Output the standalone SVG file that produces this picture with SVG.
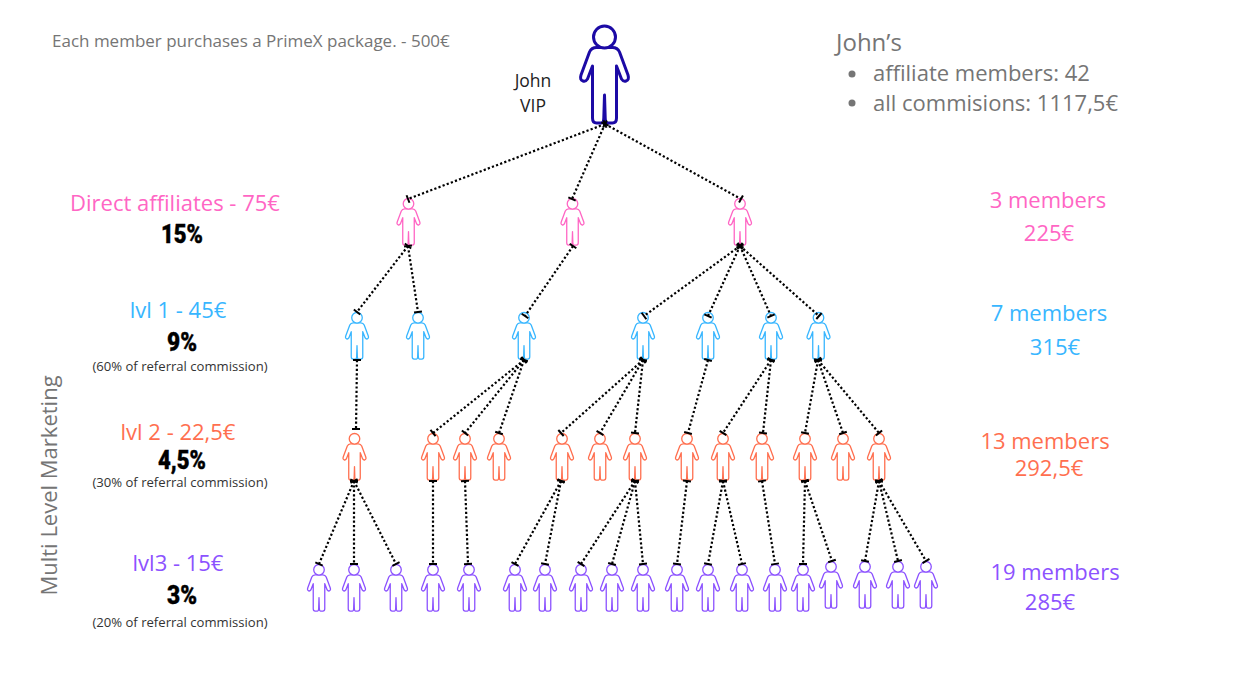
<svg xmlns="http://www.w3.org/2000/svg" width="1250" height="694" viewBox="0 0 1250 694">
<style>
text{font-family:"Open Sans","DejaVu Sans",sans-serif}
.m{text-anchor:middle}
.h{font-size:22px}
.s{font-size:13.1px;fill:#333}
.g{fill:#757575}
.b{font-family:Roboto,"Liberation Sans",sans-serif;font-weight:900;font-size:26px;fill:#000;stroke:#000;stroke-width:.4px;text-anchor:middle}
.pk{fill:#ff66c4;stroke:#ff66c4;stroke-width:2.7}.bl{fill:#38b6ff;stroke:#38b6ff;stroke-width:2.7}.or{fill:#ff6f4f;stroke:#ff6f4f;stroke-width:2.7}.pu{fill:#8c52ff;stroke:#8c52ff;stroke-width:2.7}
text.pk,text.bl,text.or,text.pu{stroke:none}
.vip{stroke:#1c0aa5;stroke-width:3}
#c line{stroke:#000;stroke-width:2.2;stroke-dasharray:2.2 2.2;marker-end:url(#t);marker-start:url(#t)}
</style>
<defs>
<marker id="t" markerUnits="userSpaceOnUse" markerWidth="4" markerHeight="10" refX="2" refY="5" orient="auto"><rect x="1" y="1" width="2" height="8" fill="#000"/></marker>
<g id="p" fill="#fff" stroke-linejoin="round"><path d="M-8 22.5H8Q13 22.5 15 27L23.500 50Q25 55 21.500 56Q19 57 17 54L12 41V93Q12 98 8 98H3Q1 98 .7 93L0 70L-.7 93Q-1 98-3 98H-8Q-12 98-12 93V41L-17 54Q-19 57-21.500 56Q-25 55-23.500 50L-15 27Q-13 22.5-8 22.5Z"/><circle cx="0" cy="12" r="11"/></g>
</defs>
<g id="john" class="vip"><use href="#p" transform="translate(604.5 25)"/></g>
<g id="d1" class="pk"><use href="#p" transform="translate(408.5 198) scale(.48)"/></g>
<g id="d2" class="pk"><use href="#p" transform="translate(572.5 198) scale(.48)"/></g>
<g id="d3" class="pk"><use href="#p" transform="translate(740 198) scale(.48)"/></g>
<g id="l1a" class="bl"><use href="#p" transform="translate(357 312) scale(.48)"/></g>
<g id="l1b" class="bl"><use href="#p" transform="translate(418 312) scale(.48)"/></g>
<g id="l1c" class="bl"><use href="#p" transform="translate(524 312) scale(.48)"/></g>
<g id="l1d" class="bl"><use href="#p" transform="translate(643 312) scale(.48)"/></g>
<g id="l1e" class="bl"><use href="#p" transform="translate(708 312) scale(.48)"/></g>
<g id="l1f" class="bl"><use href="#p" transform="translate(771 312) scale(.48)"/></g>
<g id="l1g" class="bl"><use href="#p" transform="translate(818.5 312) scale(.48)"/></g>
<g id="l2a" class="or"><use href="#p" transform="translate(354.5 433) scale(.48)"/></g>
<g id="l2b" class="or"><use href="#p" transform="translate(433 433) scale(.48)"/></g>
<g id="l2c" class="or"><use href="#p" transform="translate(465 433) scale(.48)"/></g>
<g id="l2d" class="or"><use href="#p" transform="translate(499 433) scale(.48)"/></g>
<g id="l2e" class="or"><use href="#p" transform="translate(562 433) scale(.48)"/></g>
<g id="l2f" class="or"><use href="#p" transform="translate(600 433) scale(.48)"/></g>
<g id="l2g" class="or"><use href="#p" transform="translate(635 433) scale(.48)"/></g>
<g id="l2h" class="or"><use href="#p" transform="translate(687 433) scale(.48)"/></g>
<g id="l2i" class="or"><use href="#p" transform="translate(723 433) scale(.48)"/></g>
<g id="l2j" class="or"><use href="#p" transform="translate(762 433) scale(.48)"/></g>
<g id="l2k" class="or"><use href="#p" transform="translate(805 433) scale(.48)"/></g>
<g id="l2l" class="or"><use href="#p" transform="translate(843 433) scale(.48)"/></g>
<g id="l2m" class="or"><use href="#p" transform="translate(879 433) scale(.48)"/></g>
<g id="l3a" class="pu"><use href="#p" transform="translate(319 564) scale(.48)"/></g>
<g id="l3b" class="pu"><use href="#p" transform="translate(354 564) scale(.48)"/></g>
<g id="l3c" class="pu"><use href="#p" transform="translate(396 564) scale(.48)"/></g>
<g id="l3d" class="pu"><use href="#p" transform="translate(433 564) scale(.48)"/></g>
<g id="l3e" class="pu"><use href="#p" transform="translate(469 564) scale(.48)"/></g>
<g id="l3f" class="pu"><use href="#p" transform="translate(515 564) scale(.48)"/></g>
<g id="l3g" class="pu"><use href="#p" transform="translate(545 564) scale(.48)"/></g>
<g id="l3h" class="pu"><use href="#p" transform="translate(581 564) scale(.48)"/></g>
<g id="l3i" class="pu"><use href="#p" transform="translate(612 564) scale(.48)"/></g>
<g id="l3j" class="pu"><use href="#p" transform="translate(643 564) scale(.48)"/></g>
<g id="l3k" class="pu"><use href="#p" transform="translate(677 564) scale(.48)"/></g>
<g id="l3l" class="pu"><use href="#p" transform="translate(708 564) scale(.48)"/></g>
<g id="l3m" class="pu"><use href="#p" transform="translate(742 564) scale(.48)"/></g>
<g id="l3n" class="pu"><use href="#p" transform="translate(775 564) scale(.48)"/></g>
<g id="l3o" class="pu"><use href="#p" transform="translate(803 564) scale(.48)"/></g>
<g id="l3p" class="pu"><use href="#p" transform="translate(831 561) scale(.48)"/></g>
<g id="l3q" class="pu"><use href="#p" transform="translate(865 561) scale(.48)"/></g>
<g id="l3r" class="pu"><use href="#p" transform="translate(898 561) scale(.48)"/></g>
<g id="l3s" class="pu"><use href="#p" transform="translate(926 561) scale(.48)"/></g>
<g id="c">
<line x1="605" y1="124" x2="408" y2="199"/><line x1="605" y1="124" x2="572" y2="199"/><line x1="605" y1="124" x2="741" y2="199"/>
<line x1="408" y1="246" x2="357" y2="312"/><line x1="408" y1="246" x2="418" y2="312"/><line x1="573" y1="246" x2="525" y2="316"/>
<line x1="740" y1="246" x2="644" y2="316"/><line x1="740" y1="246" x2="708" y2="316"/><line x1="740" y1="246" x2="771" y2="316"/><line x1="740" y1="246" x2="819" y2="316"/>
<line x1="357" y1="360" x2="356" y2="429"/>
<line x1="524" y1="360" x2="433" y2="433"/><line x1="524" y1="360" x2="465" y2="433"/><line x1="524" y1="360" x2="499" y2="433"/>
<line x1="643" y1="360" x2="561" y2="433"/><line x1="643" y1="360" x2="600" y2="433"/><line x1="643" y1="360" x2="635" y2="433"/>
<line x1="708" y1="360" x2="688" y2="433"/>
<line x1="771" y1="360" x2="723" y2="433"/><line x1="771" y1="360" x2="763" y2="433"/>
<line x1="818" y1="360" x2="805" y2="433"/><line x1="818" y1="360" x2="843" y2="433"/><line x1="818" y1="360" x2="879" y2="433"/>
<line x1="354" y1="481" x2="319" y2="564"/><line x1="354" y1="481" x2="354" y2="564"/><line x1="354" y1="481" x2="396" y2="564"/>
<line x1="433" y1="481" x2="433" y2="564"/><line x1="465" y1="481" x2="468" y2="564"/>
<line x1="561" y1="481" x2="515" y2="564"/><line x1="561" y1="481" x2="545" y2="564"/>
<line x1="635" y1="481" x2="581" y2="564"/><line x1="635" y1="481" x2="612" y2="564"/><line x1="635" y1="481" x2="643" y2="564"/>
<line x1="687" y1="481" x2="677" y2="564"/><line x1="723" y1="481" x2="708" y2="564"/><line x1="723" y1="481" x2="742" y2="564"/>
<line x1="762" y1="481" x2="775" y2="564"/><line x1="805" y1="481" x2="803" y2="564"/><line x1="805" y1="481" x2="832" y2="561"/>
<line x1="879" y1="481" x2="865" y2="561"/><line x1="879" y1="481" x2="898" y2="561"/><line x1="879" y1="481" x2="926" y2="561"/>
</g>
<g id="labels">
<text x="52" y="47" font-size="17" class="g">Each member purchases a PrimeX package. - 500€</text>
<text x="533" y="87" font-size="17.5" class="m" fill="#222">John</text>
<text x="533" y="112" font-size="17.5" class="m" fill="#222">VIP</text>
<text x="836" y="51" font-size="24" class="g">John’s</text>
<circle cx="852" cy="74" r="3.5" fill="#757575"/><circle cx="852" cy="103" r="3.5" fill="#757575"/>
<text x="873" y="81" font-size="22" class="g">affiliate members: 42</text>
<text x="873" y="111" font-size="22" class="g">all commisions: 1117,5€</text>
<text x="175" y="211" class="h m pk">Direct affiliates - 75€</text>
<text x="182" y="243" class="b" textLength="42" lengthAdjust="spacingAndGlyphs">15%</text>
<text x="178" y="318" class="h m bl">lvl 1 - 45€</text>
<text x="182" y="351" class="b" textLength="30" lengthAdjust="spacingAndGlyphs">9%</text>
<text x="180" y="371" class="s m">(60% of referral commission)</text>
<text x="178" y="440" class="h m or">lvl 2 - 22,5€</text>
<text x="182" y="469" class="b" textLength="48" lengthAdjust="spacingAndGlyphs">4,5%</text>
<text x="180" y="487" class="s m">(30% of referral commission)</text>
<text x="178" y="571" class="h m pu">lvl3 - 15€</text>
<text x="182" y="604" class="b" textLength="30" lengthAdjust="spacingAndGlyphs">3%</text>
<text x="180" y="627" class="s m">(20% of referral commission)</text>
<text transform="translate(57 485.500) rotate(-90)" font-size="22" class="m g">Multi Level Marketing</text>
<text x="1048" y="208" class="h m pk">3 members</text><text x="1049" y="241" class="h m pk">225€</text>
<text x="1049" y="321" class="h m bl">7 members</text><text x="1055" y="355" class="h m bl">315€</text>
<text x="1045" y="449" class="h m or">13 members</text><text x="1049" y="476" class="h m or">292,5€</text>
<text x="1055" y="580" class="h m pu">19 members</text><text x="1050" y="610" class="h m pu">285€</text>
</g>
</svg>
